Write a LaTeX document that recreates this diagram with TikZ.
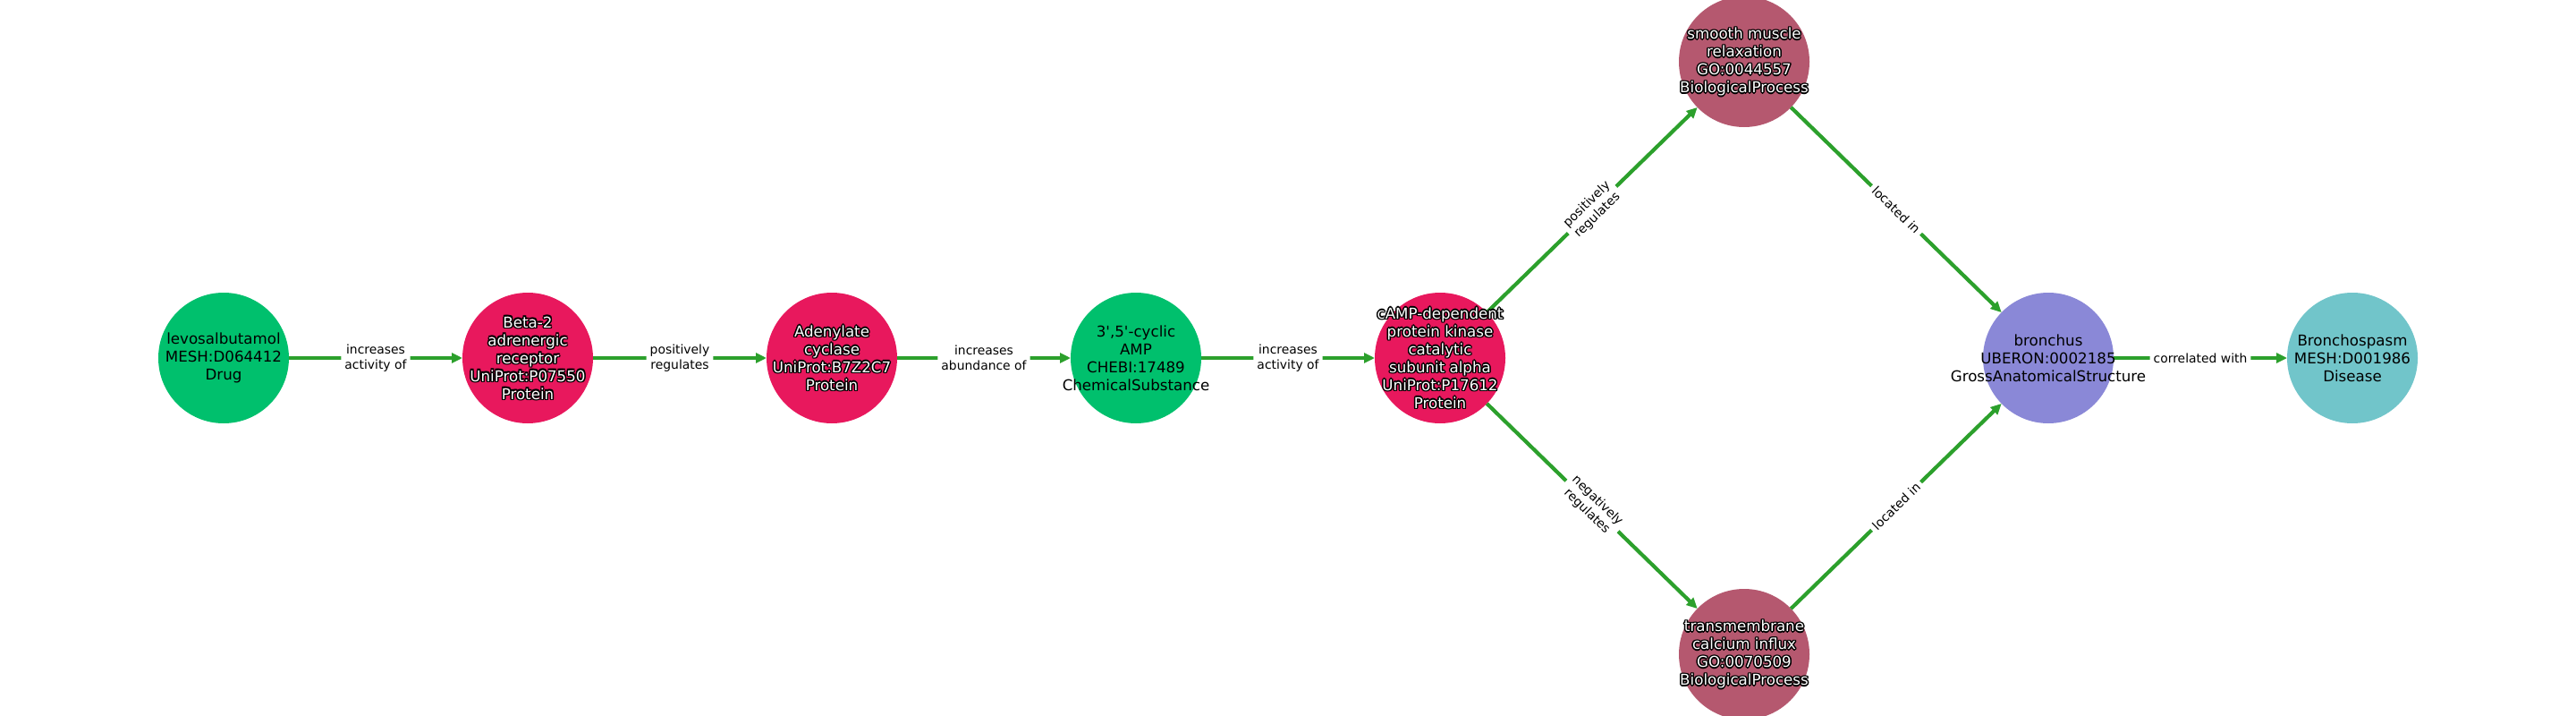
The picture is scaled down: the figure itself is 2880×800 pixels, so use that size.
\documentclass[tikz,border=0pt]{standalone}
\usepackage{fontspec}
\setmainfont{DejaVu Sans}[Ligatures=TeXOff]
\usetikzlibrary{arrows.meta}
\definecolor{edgegreen}{HTML}{2CA02C}
\definecolor{cdrug}{HTML}{00C06D}
\definecolor{cprot}{HTML}{E8185D}
\definecolor{cproc}{HTML}{B5586F}
\definecolor{canat}{HTML}{8A88D7}
\definecolor{cdis}{HTML}{71C5CA}
\newcommand\olcp[3]{\makebox[0pt][l]{\hspace*{#1}\raisebox{#2}{#3}}}
\newcommand\ow[1]{{\color{black}\olcp{1.5pt}{0pt}{#1}\olcp{-1.5pt}{0pt}{#1}\olcp{0pt}{1.5pt}{#1}\olcp{0pt}{-1.5pt}{#1}\olcp{1.1pt}{1.1pt}{#1}\olcp{-1.1pt}{1.1pt}{#1}\olcp{1.1pt}{-1.1pt}{#1}\olcp{-1.1pt}{-1.1pt}{#1}}{\color{white}#1}}
\tikzset{
  ent/.style={circle, minimum size=146pt, inner sep=0pt, outer sep=0pt},
  ntxt/.style={align=center, inner sep=0pt, font=\fontsize{16.67}{20}\selectfont, text=black},
  rel/.style={draw=edgegreen, line width=4.2pt, -{Triangle[length=12pt,width=11pt]}},
  lbl/.style={fill=white, rounded corners=4pt, inner sep=4pt, align=center, font=\fontsize{13.9}{16.7}\selectfont, text=black},
}
\begin{document}
\begin{tikzpicture}[x=1pt,y=-1pt]
\useasboundingbox (0,0) rectangle (2880,800);
\fill[white] (0,0) rectangle (2880,800);
\clip (0,0) rectangle (2880,800);
% entity circles
\node[ent, fill=cdrug] (n1) at (250,400) {};
\node[ent, fill=cprot] (n2) at (590,400) {};
\node[ent, fill=cprot] (n3) at (930,400) {};
\node[ent, fill=cdrug] (n4) at (1270,400) {};
\node[ent, fill=cprot] (n5) at (1610,400) {};
\node[ent, fill=cproc] (n6) at (1950,69) {};
\node[ent, fill=cproc] (n7) at (1950,731) {};
\node[ent, fill=canat] (n8) at (2290,400) {};
\node[ent, fill=cdis] (n9) at (2630,400) {};
% connectors
\draw[rel] (n1) -- node[lbl] (l1) {increases\\activity of} (n2);
\draw[rel] (n2) -- node[lbl] (l2) {positively\\regulates} (n3);
\draw[rel] (n3) -- node[lbl] (l3) {increases\\abundance of} (n4);
\draw[rel] (n4) -- node[lbl] (l4) {increases\\activity of} (n5);
\draw[rel] (n5) -- node[lbl, sloped] (l5) {positively\\regulates} (n6);
\draw[rel] (n5) -- node[lbl, sloped] (l6) {negatively\\regulates} (n7);
\draw[rel] (n6) -- node[lbl, sloped] (l7) {located in} (n8);
\draw[rel] (n7) -- node[lbl, sloped] (l8) {located in} (n8);
\draw[rel] (n8) -- node[lbl] (l9) {correlated with} (n9);
% entity texts
\node[ntxt] (t1) at (n1) {levosalbutamol\\MESH:D064412\\Drug};
\node[ntxt] (t2) at (n2) {\ow{Beta-2}\\\ow{adrenergic}\\\ow{receptor}\\\ow{UniProt:P07550}\\\ow{Protein}};
\node[ntxt] (t3) at (n3) {\ow{Adenylate}\\\ow{cyclase}\\\ow{UniProt:B7Z2C7}\\\ow{Protein}};
\node[ntxt] (t4) at (n4) {3',5'-cyclic\\AMP\\CHEBI:17489\\ChemicalSubstance};
\node[ntxt] (t5) at (n5) {\ow{cAMP-dependent}\\\ow{protein kinase}\\\ow{catalytic}\\\ow{subunit alpha}\\\ow{UniProt:P17612}\\\ow{Protein}};
\node[ntxt] (t6) at (n6) {\ow{smooth muscle}\\\ow{relaxation}\\\ow{GO:0044557}\\\ow{BiologicalProcess}};
\node[ntxt] (t7) at (n7) {\ow{transmembrane}\\\ow{calcium influx}\\\ow{GO:0070509}\\\ow{BiologicalProcess}};
\node[ntxt] (t8) at (n8) {bronchus\\UBERON:0002185\\GrossAnatomicalStructure};
\node[ntxt] (t9) at (n9) {Bronchospasm\\MESH:D001986\\Disease};
\end{tikzpicture}
\end{document}
